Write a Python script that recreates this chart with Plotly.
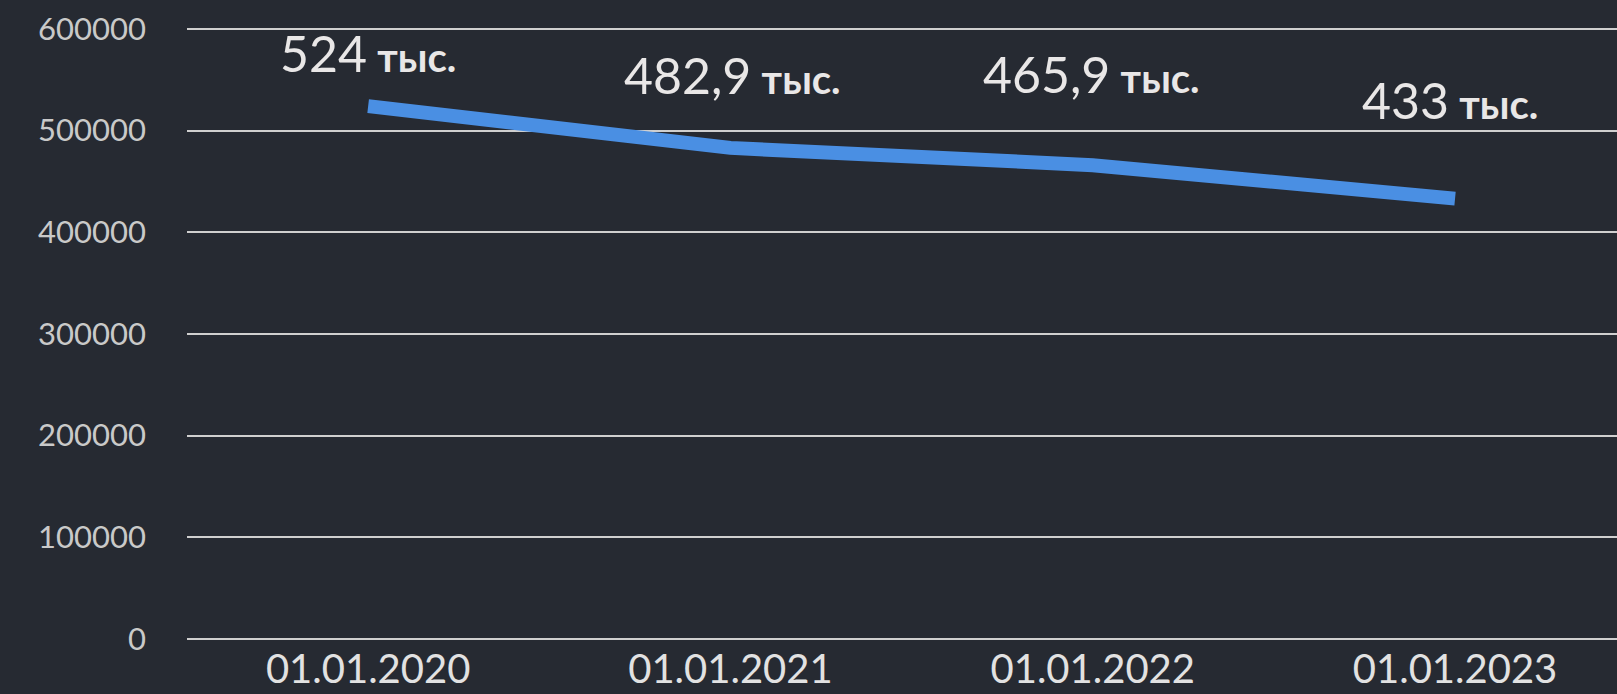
import plotly.graph_objects as go

categories = ["01.01.2020", "01.01.2021", "01.01.2022", "01.01.2023"]
values = [524000, 482900, 465900, 433000]
label_numbers = ["524", "482,9", "465,9", "433"]
label_unit = "тыс."
y_tick_values = [0, 100000, 200000, 300000, 400000, 500000, 600000]

BG = "#262a32"
label_yshift = [53, 73, 91, 99]
label_xshift = [0, 2, -1, -5]

fig = go.Figure()
fig.add_trace(go.Scatter(
    x=categories, y=values, mode="lines",
    line=dict(color="#4a8fe3", width=14),
    hoverinfo="skip", showlegend=False,
))

for cat, val, num, ys, xs in zip(categories, values, label_numbers, label_yshift, label_xshift):
    fig.add_annotation(
        x=cat, y=val, xref="x", yref="y",
        text=f"{num}<span style='font-size:40px'> <b>{label_unit}</b></span>",
        showarrow=False, yshift=ys, xshift=xs,
        xanchor="center", yanchor="middle",
        font=dict(family="Lato", size=50, color="#e9e7e7"),
    )

fig.update_layout(
    width=1617, height=694,
    paper_bgcolor=BG, plot_bgcolor=BG,
    margin=dict(l=187, r=0, t=26, b=55, autoexpand=False),
    showlegend=False,
    xaxis=dict(
        type="category", range=[-0.5, 3.447], automargin=False,
        showgrid=False, zeroline=False, showline=False, ticks="",
        tickfont=dict(family="Lato", size=40, color="#e2e2e2"),
        ticklabelstandoff=3,
    ),
    yaxis=dict(
        range=[0, 602750], tickvals=y_tick_values, automargin=False,
        ticktext=[str(v) for v in y_tick_values],
        showgrid=True, gridcolor="#cfcfcf", gridwidth=1.6,
        zeroline=True, zerolinecolor="#cfcfcf", zerolinewidth=1.6,
        showline=False, ticks="",
        tickfont=dict(family="Lato", size=31, color="#c9c9c9"),
        ticklabelstandoff=40,
    ),
)

fig.write_html(
    "out.html",
    config={"displayModeBar": False},
    post_script=f"document.body.style.margin='0';document.body.style.background='{BG}';document.body.style.overflow='hidden';",
)
